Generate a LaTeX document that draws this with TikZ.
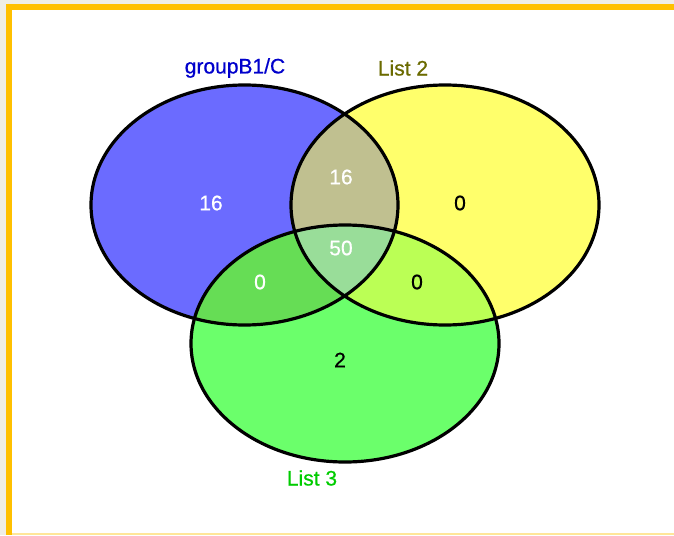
\documentclass[tikz,border=0pt]{standalone}
\usepackage{fontspec}
\setmainfont{Liberation Sans}
\newfontfamily\vennfont[FakeBold=0.7]{Liberation Sans}
\definecolor{bgout}{HTML}{EFEEE6}
\definecolor{frameor}{HTML}{FFC000}
\definecolor{paleline}{HTML}{FFE699}
\definecolor{cblue}{HTML}{6B6BFF}
\definecolor{cyellow}{HTML}{FFFF6B}
\definecolor{cgreen}{HTML}{6BFF6B}
\definecolor{cby}{HTML}{C0C090}
\definecolor{cbg}{HTML}{66DD55}
\definecolor{cyg}{HTML}{BBFF55}
\definecolor{call}{HTML}{99DD99}
\definecolor{tblue}{HTML}{0000CC}
\definecolor{tolive}{HTML}{6B6B00}
\definecolor{tgreen}{HTML}{00CC00}
\begin{document}
\begin{tikzpicture}[x=1pt,y=-1pt,
  numw/.style={text=white,font=\vennfont\fontsize{21}{21}\selectfont,inner sep=0pt},
  numb/.style={text=black,font=\vennfont\fontsize{21}{21}\selectfont,inner sep=0pt},
  setlabel/.style={font=\vennfont\fontsize{21}{21}\selectfont,inner sep=0pt},
  outline/.style={draw=black,line width=3.2pt}]
\useasboundingbox (0,0) rectangle (674,535);
\fill[bgout] (0,0) rectangle (674,535);
\fill[frameor] (6,4) rectangle (674,535);
\fill[paleline] (12,10) rectangle (674,535);
\fill[white] (12,10) rectangle (674,533);
\def\ea{(244.5,205) ellipse [x radius=153.5, y radius=120]}
\def\eb{(445,205) ellipse [x radius=154, y radius=120]}
\def\ec{(345,343.5) ellipse [x radius=154, y radius=118.5]}
\fill[cblue] \ea;
\fill[cyellow] \eb;
\fill[cgreen] \ec;
\begin{scope}\clip \ea; \fill[cby] \eb; \end{scope}
\begin{scope}\clip \ea; \fill[cbg] \ec; \end{scope}
\begin{scope}\clip \eb; \fill[cyg] \ec; \end{scope}
\begin{scope}\clip \ea; \clip \eb; \fill[call] \ec; \end{scope}
\draw[outline] \ea;
\draw[outline] \eb;
\draw[outline] \ec;
\node[setlabel,text=tblue] (la) at (235,68) {groupB1/C};
\node[setlabel,text=tolive] (lb) at (403,68) {List 2};
\node[setlabel,text=tgreen] (lc) at (312,478) {List 3};
\node[numw] (na) at (211,203) {16};
\node[numw] (nab) at (341,177) {16};
\node[numb] (nb) at (460,203) {0};
\node[numw] (nabc) at (341,248) {50};
\node[numw] (nac) at (260,282) {0};
\node[numb] (nbc) at (417,282) {0};
\node[numb] (nc) at (340,360) {2};
\end{tikzpicture}
\end{document}
